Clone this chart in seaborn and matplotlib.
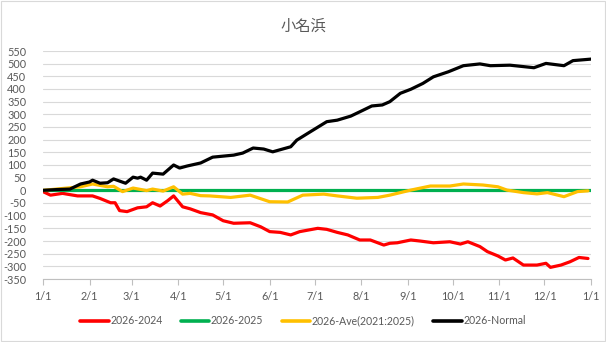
import numpy as np
import pandas as pd
import matplotlib
matplotlib.use("Agg")
import matplotlib.pyplot as plt
import seaborn as sns
from matplotlib.patches import Rectangle

# ---------------- data (day offset from 2026-01-01, value) ----------------
red_days = [0, 5, 13, 23, 33, 38, 45, 48, 51, 56, 63, 69, 73, 78, 83, 87, 93, 98, 105, 113,
            120, 127, 138, 145, 151, 158, 165, 171, 183, 189, 196, 203, 211, 218, 227, 231,
            236, 245, 251, 260, 271, 278, 283, 291, 296, 303, 308, 313, 320, 329, 335, 338,
            345, 351, 357, 363]
red_vals = [-5, -19, -12, -22, -22, -32, -49, -49, -80, -84, -69, -65, -49, -62, -41, -22, -65,
            -73, -88, -97, -120, -130, -128, -144, -163, -166, -176, -163, -150, -154, -166,
            -176, -196, -196, -216, -209, -207, -196, -200, -207, -203, -212, -203, -222, -242,
            -259, -275, -267, -295, -295, -288, -304, -295, -282, -265, -269]

green_days = [0, 365]
green_vals = [0, 0]

yellow_days = [0, 9, 25, 33, 43, 47, 53, 60, 69, 73, 80, 87, 93, 98, 105, 111, 125, 138, 151,
               163, 173, 187, 196, 209, 223, 231, 238, 245, 258, 271, 280, 293, 303, 309, 320,
               329, 336, 347, 356, 363]
yellow_vals = [0, 5, 14, 25, 14, 16, -5, 9, -1, 5, -3, 14, -15, -12, -21, -22, -28, -19, -45,
               -46, -19, -15, -22, -31, -28, -19, -9, 1, 17, 17, 25, 21, 14, 1, -9, -14, -9,
               -25, -5, -2]

black_days = [0, 9, 18, 25, 31, 33, 38, 43, 47, 55, 60, 63, 65, 69, 73, 80, 87, 91, 96, 105,
              113, 127, 133, 140, 147, 153, 165, 169, 178, 189, 196, 205, 211, 219, 226, 231,
              238, 245, 253, 260, 270, 280, 291, 298, 311, 327, 335, 347, 353, 365]
black_vals = [0, 3, 5, 25, 33, 40, 28, 30, 45, 28, 52, 48, 52, 40, 68, 64, 100, 88, 96, 108,
              131, 139, 147, 167, 163, 152, 172, 198, 231, 271, 277, 293, 310, 333, 337, 350,
              383, 399, 422, 448, 468, 492, 499, 492, 494, 484, 501, 492, 512, 518]

series_names = ["2026-2024", "2026-2025", "2026-Ave(2021:2025)", "2026-Normal"]
series_colors = ["#FF0000", "#00B050", "#FFC000", "#000000"]
title_text = "小名浜"
y_ticks = list(range(-350, 551, 50))
start_date = "2026-01-01"
end_date = "2027-01-01"

# ---------------- build frame ----------------
frames = []
for name, d, v in zip(series_names,
                      [red_days, green_days, yellow_days, black_days],
                      [red_vals, green_vals, yellow_vals, black_vals]):
    frames.append(pd.DataFrame({"day": d, "value": v, "series": name}))
df = pd.concat(frames, ignore_index=True)

month_starts = pd.date_range(start_date, end_date, freq="MS")
month_pos = [(m - pd.Timestamp(start_date)).days for m in month_starts]
month_labels = [f"{m.month}/1" for m in month_starts]

# ---------------- plot ----------------
sns.set_theme(style="white")
plt.rcParams["font.family"] = ["Lato", "Noto Sans CJK JP", "DejaVu Sans"]

fig = plt.figure(figsize=(6.06, 3.42), dpi=100)
ax = fig.add_axes([43 / 606, 1 - 279 / 342, (591 - 43) / 606, (279 - 51) / 342])

sns.lineplot(data=df, x="day", y="value", hue="series", hue_order=series_names,
             palette=series_colors, linewidth=2.3, ax=ax, legend=True, sort=False)

ax.set_xlim(month_pos[0], month_pos[-1])
ax.set_ylim(-350, 550)
ax.set_yticks(y_ticks)
ax.set_yticklabels([str(t) for t in y_ticks])
ax.set_xticks(month_pos)
ax.set_xticklabels(month_labels)
ax.set_xlabel("")
ax.set_ylabel("")

ax.grid(axis="y", color="#D9D9D9", linewidth=0.8)
ax.set_axisbelow(True)
for s in ["left", "right", "top"]:
    ax.spines[s].set_visible(False)
ax.spines["bottom"].set_color("#BFBFBF")
ax.spines["bottom"].set_linewidth(0.8)
ax.tick_params(axis="y", length=0, pad=12, labelsize=7.8, labelcolor="#595959")
ax.tick_params(axis="x", length=4, width=0.8, color="#BFBFBF", pad=5,
               labelsize=7.8, labelcolor="#595959", bottom=True)

handles, labels = ax.get_legend_handles_labels()
ax.get_legend().remove()
leg = fig.legend(handles, labels, loc="center", bbox_to_anchor=(0.5, 1 - 321 / 342),
                 ncol=4, frameon=False, fontsize=7.6, handlelength=2.7,
                 handletextpad=0.15, columnspacing=1.75)
for t in leg.get_texts():
    t.set_color("#595959")
for h in leg.get_lines():
    h.set_linewidth(2.6)

fig.text(0.5, 1 - 26 / 342, title_text, ha="center", va="center",
         fontsize=11, color="#595959")

fig.patches.append(Rectangle((0.002, 0.003), 0.996, 0.994, transform=fig.transFigure,
                             fill=False, edgecolor="#D9D9D9", linewidth=0.8))

fig.savefig("out.png", dpi=100)
